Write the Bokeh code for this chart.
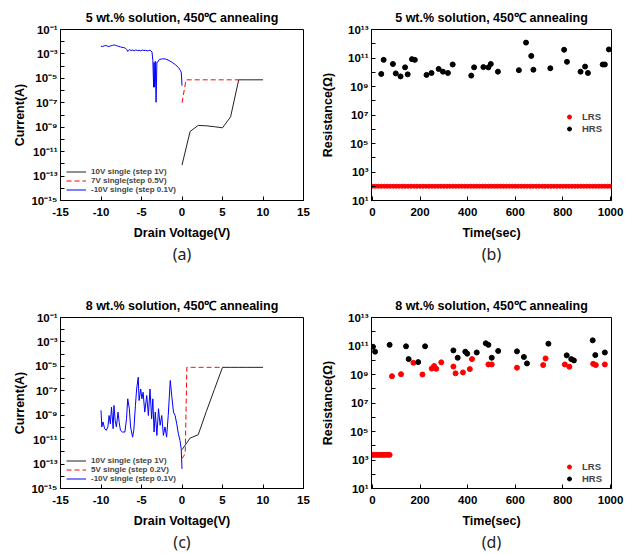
from bokeh.plotting import figure
from bokeh.models import (FixedTicker, CustomJSTickFormatter, Legend, LegendItem,
                          Title, Range1d)
from bokeh.layouts import column, row
from bokeh.embed import file_html
from bokeh.resources import INLINE

# ---------------- data ----------------
# (a) 5 wt.% I-V
a_black_v = [0, 1, 2, 3, 4, 5, 6, 7, 8, 9, 10]
a_black_i = [7.9e-13, 4.5e-10, 1.4e-9, 1.3e-9, 1.1e-9, 8.9e-10, 7.1e-9, 7.6e-6, 7.6e-6, 7.6e-6, 7.6e-6]
a_red_v = [0, 0.5, 1.0, 1.5, 2.0, 2.5, 3.0, 3.5, 4.0, 4.5, 5.0, 5.5, 6.0, 6.5, 7.0]
a_red_i = [1.0e-7, 7.6e-6, 7.6e-6, 7.6e-6, 7.6e-6, 7.6e-6, 7.6e-6, 7.6e-6, 7.6e-6, 7.6e-6,
           7.6e-6, 7.6e-6, 7.6e-6, 7.6e-6, 7.6e-6]
a_blue_v = [-10.0, -9.8, -9.6, -9.4, -9.2, -9.0, -8.8, -8.6, -8.4, -8.2, -8.0, -7.8, -7.6, -7.4,
            -7.2, -7.0, -6.8, -6.7, -6.6, -6.5, -6.3, -6.1, -5.9, -5.7, -5.5, -5.3, -5.1, -4.9,
            -4.7, -4.5, -4.3, -4.1, -3.9, -3.7, -3.6, -3.5, -3.45, -3.4, -3.3, -3.2, -3.1, -3.0,
            -2.8, -2.4, -2.0, -1.6, -1.2, -0.8, -0.4, -0.2, -0.1, -0.05, 0.0]
a_blue_i = [4.3e-3, 4.0e-3, 4.6e-3, 4.9e-3, 4.3e-3, 4.1e-3, 4.6e-3, 4.9e-3, 5.5e-3, 5.0e-3,
            4.6e-3, 4.1e-3, 3.8e-3, 3.4e-3, 3.3e-3, 3.0e-3, 2.2e-3, 1.6e-3, 2.0e-3, 2.3e-3,
            1.9e-3, 2.1e-3, 1.8e-3, 2.1e-3, 1.9e-3, 2.0e-3, 1.8e-3, 2.1e-3, 1.9e-3, 2.0e-3,
            1.8e-3, 1.9e-3, 2.0e-3, 1.4e-3, 2.9e-4, 1.9e-6, 2.0e-4, 1.9e-6, 2.5e-4, 1.1e-7,
            2.1e-4, 2.1e-4, 3.5e-4, 4.0e-4, 3.8e-4, 2.9e-4, 2.0e-4, 1.3e-4, 7.2e-5, 4.5e-5,
            3.2e-5, 1.3e-5, 2.5e-6]

# (c) 8 wt.% I-V
c_black_v = [0, 1, 2, 3, 4, 5, 6, 7, 8, 9, 10]
c_black_i = [1.5e-12, 1.35e-11, 2.5e-11, 2.0e-9, 1.3e-7, 8.3e-6, 8.3e-6, 8.3e-6, 8.3e-6, 8.3e-6, 8.3e-6]
c_red_v = [0, 0.2, 0.4, 0.6, 0.8, 1.0, 1.2, 1.4, 1.6, 1.8, 2.0, 2.2, 2.4, 2.6, 2.8, 3.0,
           3.2, 3.4, 3.6, 3.8, 4.0, 4.2, 4.4, 4.6, 4.8, 5.0]
c_red_i = [2.8e-13, 4.5e-13, 7.0e-13, 8.3e-6, 8.3e-6, 8.3e-6, 8.3e-6, 8.3e-6, 8.3e-6, 8.3e-6,
           8.3e-6, 8.3e-6, 8.3e-6, 8.3e-6, 8.3e-6, 8.3e-6, 8.3e-6, 8.3e-6, 8.3e-6, 8.3e-6,
           8.3e-6, 8.3e-6, 8.3e-6, 8.3e-6, 8.3e-6, 8.3e-6]
c_blue_v = [-10.0, -9.9, -9.75, -9.55, -9.35, -9.15, -9.0, -8.85, -8.7, -8.5, -8.4, -8.25,
            -8.1, -7.9, -7.75, -7.6, -7.35, -7.05, -6.85, -6.7, -6.5, -6.35, -6.1, -5.95,
            -5.75, -5.6, -5.4, -5.3, -5.1, -4.95, -4.8, -4.6, -4.35, -4.15, -3.95, -3.75,
            -3.6, -3.45, -3.3, -3.1, -2.9, -2.7, -2.5, -2.3, -2.1, -1.9, -1.7, -1.45, -1.25,
            -1.05, -0.85, -0.65, -0.45, -0.25, -0.1, -0.05, 0.0]
c_blue_i = [2.5e-9, 1.1e-10, 2.8e-10, 7.9e-11, 5.8e-11, 1.1e-10, 9.5e-10, 2.0e-10, 4.6e-9,
            7.9e-11, 6.3e-9, 3.7e-10, 1.1e-10, 1.8e-9, 2.5e-10, 5.8e-11, 4.2e-11, 4.2e-11,
            5.1e-10, 2.2e-8, 3.4e-9, 1.1e-10, 1.6e-11, 5.8e-11, 6.3e-9, 1.4e-7, 1.3e-6,
            1.6e-8, 1.4e-7, 2.2e-8, 7.6e-8, 1.8e-9, 4.1e-8, 9.5e-10, 1.4e-7, 5.1e-10, 2.2e-8,
            4.2e-11, 1.8e-9, 2.2e-11, 3.4e-9, 1.5e-10, 9.5e-10, 2.2e-11, 1.1e-10, 1.6e-11,
            9.5e-10, 6.9e-7, 3.0e-8, 1.8e-9, 9.5e-10, 2.0e-10, 3.1e-11, 8.7e-12, 1.8e-12,
            2.8e-13, 4.0e-14]

# (b) 5 wt.% retention
b_lrs_t = [i * 12.5 for i in range(81)]
b_lrs_r = [100] * len(b_lrs_t)
b_hrs_t = [37, 47, 86, 98, 118, 137, 148, 166, 178, 227, 248, 278, 296, 317, 337, 415, 427,
           466, 487, 497, 527, 615, 645, 667, 676, 747, 805, 817, 874, 893, 905, 967, 976, 993]
b_hrs_r = [7.6e9, 7.4e10, 3.8e10, 8.3e9, 5.1e9, 2.2e10, 7.1e9, 8.3e10, 7.4e10, 6.5e9, 8.9e9,
           1.7e10, 1.1e10, 8.9e9, 3.5e10, 5.8e9, 2.2e10, 2.3e10, 2.2e10, 3.8e10, 1.1e10,
           1.4e10, 1.2e12, 1.4e11, 1.5e10, 1.9e10, 3.8e11, 5.4e10, 1.1e10, 2.5e10, 8.9e9,
           3.5e10, 3.5e10, 4.0e11]

# (d) 8 wt.% retention
d_lrs_t = [0, 8, 16, 24, 32, 40, 48, 56, 64, 72, 82, 120, 172, 210, 249, 259, 268, 289, 340,
           349, 380, 409, 418, 487, 501, 607, 717, 727, 808, 827, 927, 938, 976]
d_lrs_r = [2.3e3, 2.3e3, 2.3e3, 2.3e3, 2.3e3, 2.3e3, 2.3e3, 2.3e3, 2.3e3, 2.3e3, 7.6e8,
           1.05e9, 6.6e9, 1.0e9, 2.6e9, 3.9e9, 2.5e9, 7.1e9, 3.6e9, 1.2e9, 1.4e9, 2.4e9,
           1.2e10, 5.1e9, 5.1e9, 3.0e9, 4.6e9, 1.35e10, 5.1e9, 3.5e9, 5.6e9, 4.6e9, 5.1e9]
d_hrs_t = [2, 11, 72, 141, 152, 192, 221, 340, 358, 390, 398, 438, 476, 487, 501, 528, 607,
           636, 649, 739, 816, 835, 846, 925, 936, 976]
d_hrs_r = [8.9e10, 4.0e10, 1.2e11, 9.5e10, 1.2e10, 7.4e9, 9.5e10, 4.9e10, 1.5e10, 4.0e10,
           2.9e10, 3.5e10, 1.55e11, 1.2e11, 1.5e10, 4.5e10, 4.2e10, 1.7e10, 6.0e9, 1.45e11,
           2.2e10, 1.2e10, 9.8e9, 2.5e11, 2.3e10, 3.5e10]

iv_xticks = [-15, -10, -5, 0, 5, 10, 15]
iv_yticks = [1e-15, 1e-13, 1e-11, 1e-9, 1e-7, 1e-5, 1e-3, 1e-1]
iv_yminor = [1e-14, 1e-12, 1e-10, 1e-8, 1e-6, 1e-4, 1e-2]
rt_xticks = [0, 200, 400, 600, 800, 1000]
rt_yticks = [1e1, 1e3, 1e5, 1e7, 1e9, 1e11, 1e13]
rt_yminor = [1e2, 1e4, 1e6, 1e8, 1e10, 1e12]

TITLE_A = "5 wt.% solution, 450\u2103 annealing"
TITLE_C = "8 wt.% solution, 450\u2103 annealing"

# ---------------- styling ----------------
FONT = "Liberation Sans"
SUP_JS = """
const sup = {'-':'\\u207b','0':'\\u2070','1':'\\u00b9','2':'\\u00b2','3':'\\u00b3',
             '4':'\\u2074','5':'\\u2075','6':'\\u2076','7':'\\u2077','8':'\\u2078','9':'\\u2079'};
const e = Math.round(Math.log10(tick));
let s = '';
for (const c of String(e)) { s += sup[c]; }
return '10' + s;
"""


def make_fig(w, h, top, bottom, left, right, xr, yr, title, xticks, yticks, yminor,
             xlabel, ylabel, caption, ylab_standoff):
    p = figure(width=w, height=h, x_range=Range1d(*xr), y_range=Range1d(*yr),
               y_axis_type="log", output_backend="svg", toolbar_location=None,
               min_border_left=left, min_border_right=right, min_border_top=top,
               min_border_bottom=bottom, title=title)
    p.title.text_font = FONT
    p.title.text_font_size = "12.5px"
    p.title.text_font_style = "bold"
    p.title.align = "center"
    p.title.standoff = 10
    p.title.offset = 10
    p.title.text_color = "black"
    p.xgrid.visible = False
    p.ygrid.visible = False
    p.outline_line_color = "black"
    p.outline_line_width = 1
    p.outline_line_alpha = 1

    xa = p.xaxis[0]
    xa.ticker = FixedTicker(ticks=xticks)
    xa.formatter = CustomJSTickFormatter(code="return tick.toFixed(0);")
    ya = p.yaxis[0]
    ya.ticker = FixedTicker(ticks=yticks, minor_ticks=yminor)
    ya.formatter = CustomJSTickFormatter(code=SUP_JS)
    for ax in (xa, ya):
        ax.axis_line_color = "black"
        ax.major_tick_line_color = "black"
        ax.minor_tick_line_color = "black"
        ax.major_tick_in = 4
        ax.major_tick_out = 0
        ax.minor_tick_in = 4
        ax.minor_tick_out = 0
        ax.major_label_text_font = FONT
        ax.major_label_text_font_style = "bold"
        ax.major_label_text_font_size = "11.5px"
        ax.major_label_text_color = "black"
        ax.axis_label_text_font = FONT
        ax.axis_label_text_font_style = "bold"
        ax.axis_label_text_font_size = "12.5px"
        ax.axis_label_text_color = "black"
    xa.axis_label = xlabel
    ya.axis_label = ylabel
    xa.major_label_standoff = 7
    xa.axis_label_standoff = 7
    ya.major_label_standoff = 3
    ya.axis_label_standoff = ylab_standoff

    cap = Title(text=caption, align="center", text_font="Noto Sans", text_font_size="16px",
                text_font_style="normal", text_color="#222222", standoff=-3)
    p.add_layout(cap, "below")
    return p


def iv_legend(p, items, loc):
    lg = Legend(items=items, location=loc, padding=2, spacing=0, margin=0,
                label_height=9, glyph_height=9, glyph_width=20, label_standoff=5,
                label_text_font=FONT, label_text_font_style="bold",
                label_text_font_size="8px", border_line_alpha=0, background_fill_alpha=0)
    p.add_layout(lg)


def rt_legend(p, items, loc):
    lg = Legend(items=items, location=loc, padding=2, spacing=1, margin=0,
                label_height=11, glyph_height=11, glyph_width=10, label_standoff=8,
                label_text_font=FONT, label_text_font_style="bold",
                label_text_font_size="9.5px", border_line_alpha=0, background_fill_alpha=0)
    p.add_layout(lg)


# ---------------- (a) ----------------
pa = make_fig(318, 280, 29, 80, 60, 15, (-15, 15), (1e-15, 1e-1), TITLE_A,
              iv_xticks, iv_yticks, iv_yminor, "Drain Voltage(V)", "Current(A)", "(a)", 1)
ra1 = pa.line(a_black_v, a_black_i, line_color="#222222", line_width=1)
ra2 = pa.line(a_red_v, a_red_i, line_color="red", line_width=1, line_dash="5 3")
ra3 = pa.line(a_blue_v, a_blue_i, line_color="blue", line_width=1)
iv_legend(pa, [LegendItem(label="10V single (step 1V)", renderers=[ra1]),
               LegendItem(label="7V single(step 0.5V)", renderers=[ra2]),
               LegendItem(label="-10V single (step 0.1V)", renderers=[ra3])], (4, 4))

# ---------------- (b) ----------------
pb = make_fig(316, 280, 29, 80, 52, 23, (-4, 1004), (1e1, 1e13), TITLE_A,
              rt_xticks, rt_yticks, rt_yminor, "Time(sec)", "Resistance(\u03a9)", "(b)", 10)
rb1 = pb.scatter(b_lrs_t, b_lrs_r, marker="circle", size=4, color="red")
rb2 = pb.scatter(b_hrs_t, b_hrs_r, marker="circle", size=5, color="black")
rt_legend(pb, [LegendItem(label="LRS", renderers=[rb1]),
               LegendItem(label="HRS", renderers=[rb2])], (191, 64))

# ---------------- (c) ----------------
pc = make_fig(318, 273, 37, 65, 60, 15, (-15, 15), (1e-15, 1e-1), TITLE_C,
              iv_xticks, iv_yticks, iv_yminor, "Drain Voltage(V)", "Current(A)", "(c)", 1)
rc3 = pc.line(c_blue_v, c_blue_i, line_color="blue", line_width=1)
rc1 = pc.line(c_black_v, c_black_i, line_color="#222222", line_width=1)
rc2 = pc.line(c_red_v, c_red_i, line_color="red", line_width=1, line_dash="5 3")
iv_legend(pc, [LegendItem(label="10V single (step 1V)", renderers=[rc1]),
               LegendItem(label="5V single (step 0.2V)", renderers=[rc2]),
               LegendItem(label="-10V single (step 0.1V)", renderers=[rc3])], (4, 3))

# ---------------- (d) ----------------
pd_ = make_fig(316, 273, 37, 65, 52, 23, (-4, 1004), (1e1, 1e13), TITLE_C,
               rt_xticks, rt_yticks, rt_yminor, "Time(sec)", "Resistance(\u03a9)", "(d)", 10)
rd1 = pd_.scatter(d_lrs_t, d_lrs_r, marker="circle", size=5, color="red")
rd2 = pd_.scatter(d_hrs_t, d_hrs_r, marker="circle", size=5, color="black")
rt_legend(pd_, [LegendItem(label="LRS", renderers=[rd1]),
                LegendItem(label="HRS", renderers=[rd2])], (191, 2))

layout = column(row(pa, pb), row(pc, pd_))

with open("out.html", "w", encoding="utf-8") as f:
    f.write(file_html(layout, INLINE))
